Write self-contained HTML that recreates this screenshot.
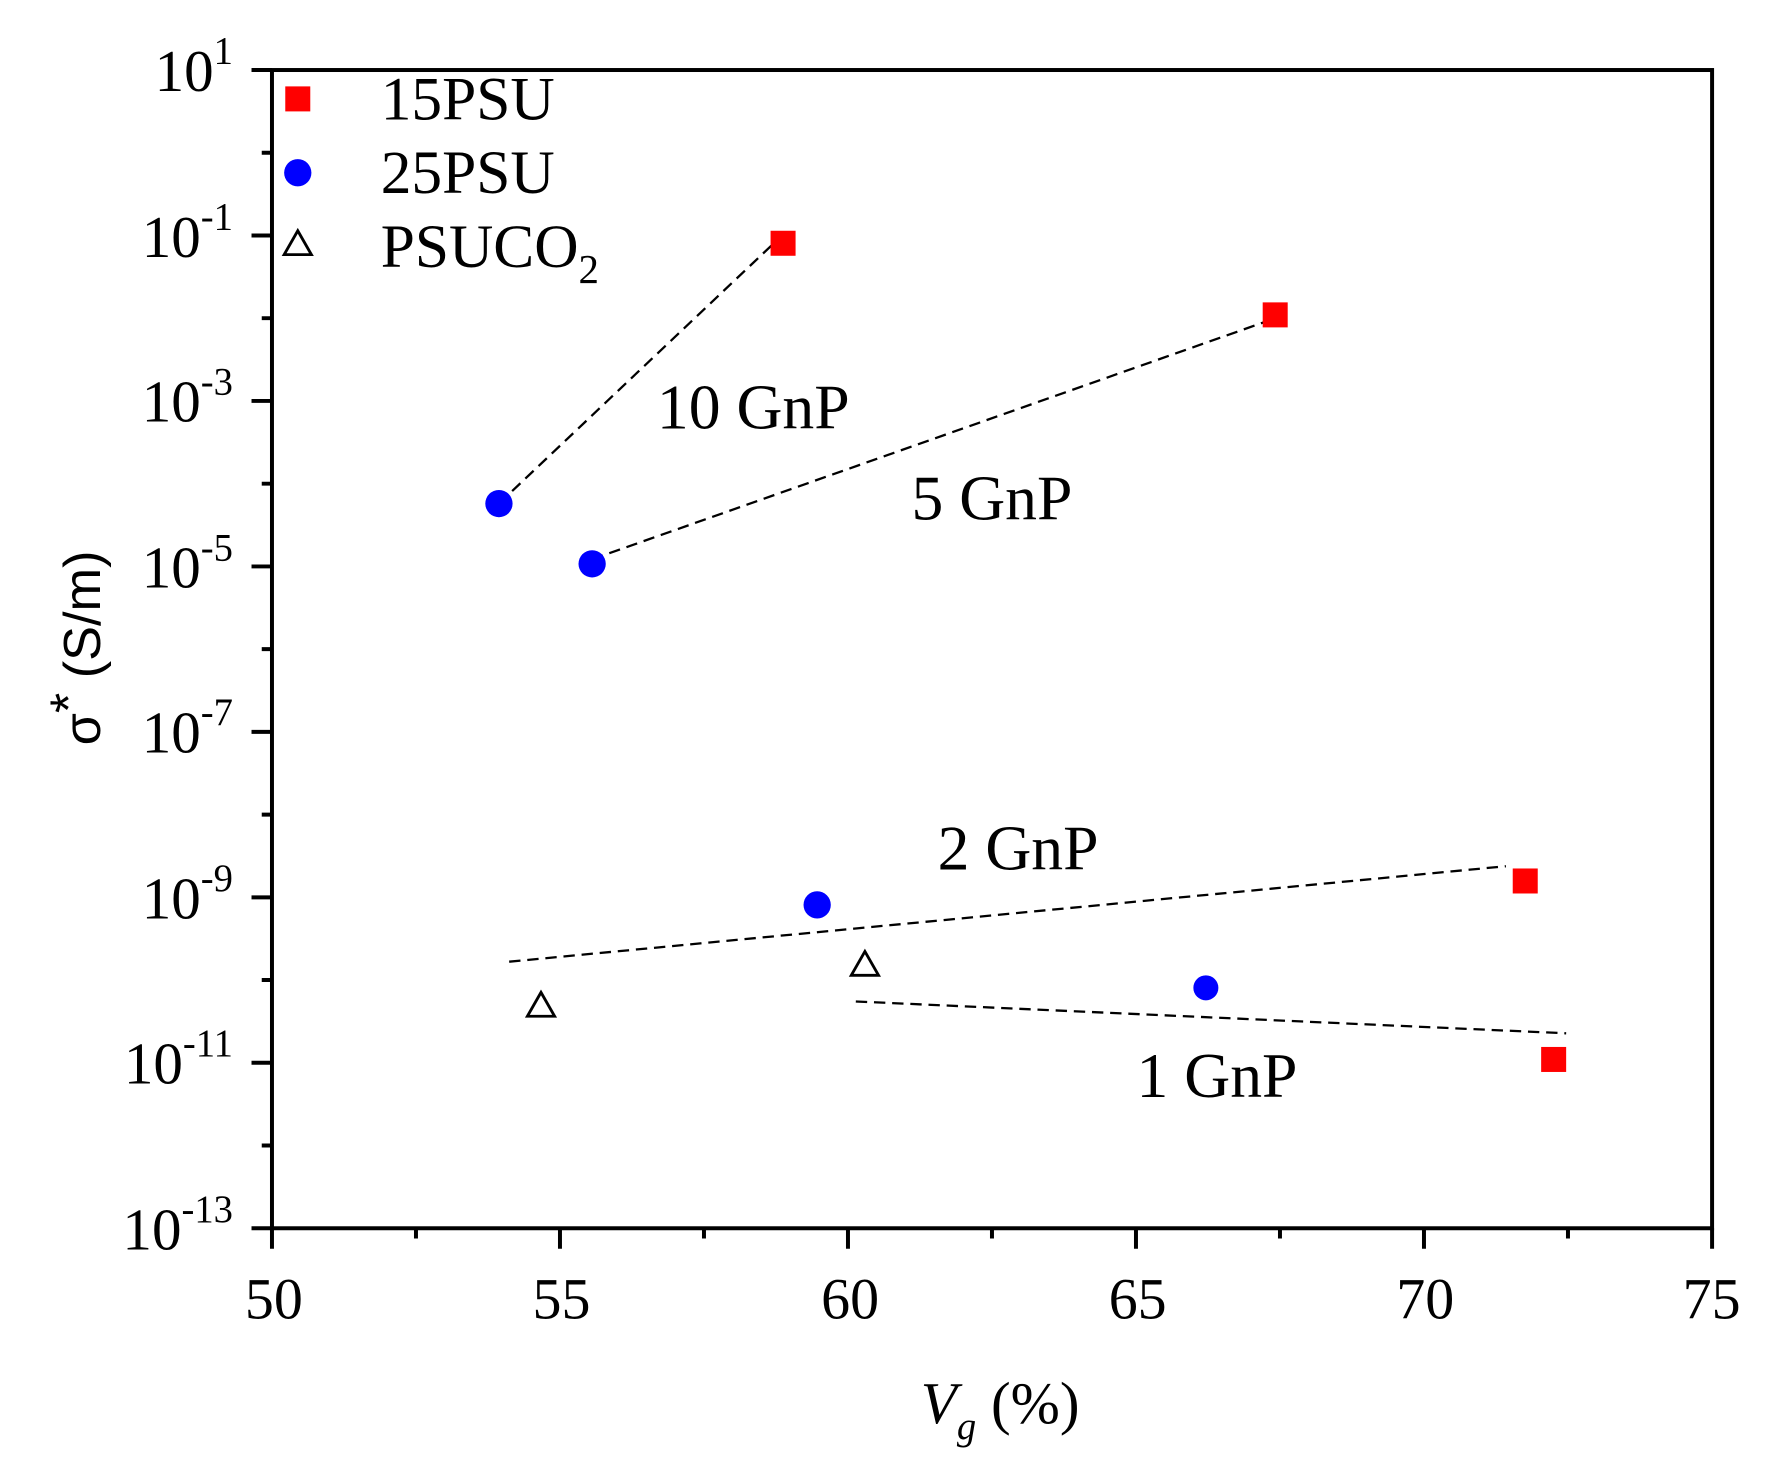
<!DOCTYPE html>
<html><head><meta charset="utf-8"><style>
html,body{margin:0;padding:0;background:#fff;}
svg{display:block;}
text{font-family:"Liberation Serif",serif;fill:#000;}
</style></head><body>
<svg width="1773" height="1463" viewBox="0 0 1560 1287" preserveAspectRatio="none" xmlns="http://www.w3.org/2000/svg">
<rect width="1560" height="1287" fill="#fff"/>
<g stroke="#000" stroke-width="3.5" fill="none">
<rect x="239.3" y="61.6" width="1267.1" height="1018.9"/>
<path d="M239.3 1080.5v18 M492.7 1080.5v18 M746.1 1080.5v18 M999.5 1080.5v18 M1252.9 1080.5v18 M1506.4 1080.5v18
M366 1080.5v9 M619.4 1080.5v9 M872.8 1080.5v9 M1126.2 1080.5v9 M1379.6 1080.5v9"/>
<path d="M239.3 61.6h-18 M239.3 207.2h-18 M239.3 352.7h-18 M239.3 498.3h-18 M239.3 643.8h-18 M239.3 789.4h-18 M239.3 934.9h-18 M239.3 1080.5h-18
M239.3 134.4h-9 M239.3 279.9h-9 M239.3 425.5h-9 M239.3 571h-9 M239.3 716.6h-9 M239.3 862.1h-9 M239.3 1007.7h-9"/>
</g>
<g font-size="51" text-anchor="middle">
<text x="241" y="1160">50</text><text x="494" y="1160">55</text><text x="748" y="1160">60</text>
<text x="1001" y="1160">65</text><text x="1254" y="1160">70</text><text x="1506" y="1160">75</text>
</g>
<g font-size="52" text-anchor="end">
<text x="205" y="80">10<tspan font-size="34" dy="-24">1</tspan></text>
<text x="205" y="226">10<tspan font-size="34" dy="-24">-1</tspan></text>
<text x="205" y="371">10<tspan font-size="34" dy="-24">-3</tspan></text>
<text x="205" y="517">10<tspan font-size="34" dy="-24">-5</tspan></text>
<text x="205" y="662">10<tspan font-size="34" dy="-24">-7</tspan></text>
<text x="205" y="808">10<tspan font-size="34" dy="-24">-9</tspan></text>
<text x="205" y="953">10<tspan font-size="34" dy="-24">-11</tspan></text>
<text x="205" y="1099">10<tspan font-size="34" dy="-24">-13</tspan></text>
</g>
<text transform="translate(88,570) rotate(-90)" font-size="46" text-anchor="middle" style="font-family:'Liberation Sans',sans-serif">σ<tspan dy="-12">*</tspan><tspan dy="12"> (S/m)</tspan></text>
<text x="880" y="1252" font-size="52" text-anchor="middle"><tspan font-style="italic">V<tspan font-size="34" dy="14">g</tspan></tspan><tspan dy="-14"> (%)</tspan></text>
<g stroke="#000" stroke-width="2" stroke-dasharray="10,6" fill="none">
<path d="M439 443L683 212"/>
<path d="M521 492L1122 280"/>
<path d="M448 846L1325 762"/>
<path d="M753 881L1378 909"/>
</g>
<g fill="#ff0000">
<rect x="678" y="203" width="22" height="22"/>
<rect x="1111" y="266" width="22" height="22"/>
<rect x="1331" y="764" width="22" height="22"/>
<rect x="1356" y="921" width="22" height="22"/>
<rect x="251" y="76" width="22" height="22"/>
</g>
<g fill="#0000ff">
<circle cx="439" cy="443" r="12"/>
<circle cx="521" cy="496" r="12"/>
<circle cx="719" cy="796" r="12"/>
<circle cx="1061" cy="869" r="11"/>
<circle cx="262" cy="152" r="12"/>
</g>
<g fill="none" stroke="#000" stroke-width="2.5">
<path d="M476 873L488 894H464Z"/>
<path d="M761 837L773 858H749Z"/>
<path d="M262 203L274 224H250Z"/>
</g>
<g font-size="54">
<text x="335" y="105">15PSU</text>
<text x="335" y="170">25PSU</text>
<text x="335" y="235">PSUCO<tspan font-size="36" dy="14">2</tspan></text>
</g>
<g font-size="56">
<text x="578" y="377">10 GnP</text>
<text x="802" y="457">5 GnP</text>
<text x="825" y="765">2 GnP</text>
<text x="1000" y="965">1 GnP</text>
</g>
</svg>
</body></html>
